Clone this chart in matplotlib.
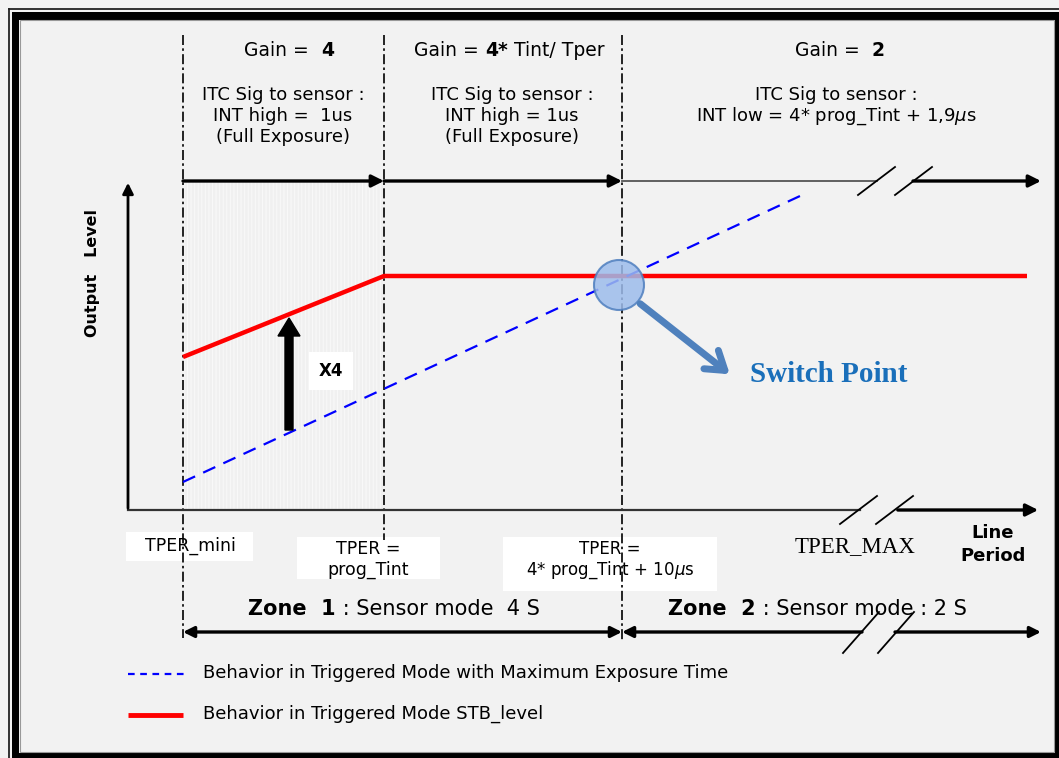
import matplotlib.pyplot as plt
from matplotlib.patches import Rectangle, Circle, FancyArrowPatch

# diagram coordinates are in pixels of the 1059x758 canvas (y grows downwards)
zone_x = [183, 384, 622]            # TPER_mini, prog_Tint, switch point
axis_y = 510
top_y = 181

red_x = [183, 384, 1027]            # Triggered Mode STB_level
red_y = [357, 276, 276]
blue_x = [183, 800]                 # Triggered Mode with max exposure
blue_y = [482, 196]

switch_pt = (619, 285)

FONT = 'DejaVu Sans'
BG = '#f2f2f2'

fig = plt.figure(figsize=(10.59, 7.58), dpi=100, facecolor=BG)
ax = fig.add_axes([0, 0, 1, 1])
ax.set_xlim(0, 1059)
ax.set_ylim(758, 0)
ax.axis('off')
ax.set_facecolor(BG)
renderer = fig.canvas.get_renderer()

# ---- frame: thin outer line + thick black band ----
ax.plot([8.5, 1059], [8.5, 8.5], color='#222222', lw=1.3)
ax.plot([8.5, 8.5], [8.5, 758], color='#222222', lw=1.3)
for x, y, w, h in [(12, 12, 1047, 8), (12, 12, 7, 746), (1055, 12, 4, 746), (12, 753, 1047, 5)]:
    ax.add_patch(Rectangle((x, y), w, h, fc='black', ec='none'))
ax.add_patch(Rectangle((20, 20), 1034, 732, fill=False, ec='#999999', lw=0.8))

# ---- shaded zone ----
plt.rcParams['hatch.linewidth'] = 0.3
ax.add_patch(Rectangle((zone_x[0], top_y), zone_x[1] - zone_x[0], axis_y - top_y,
                       fc='#f9f9f9', ec='#e4e4e4', hatch='|' * 12, lw=0))

# ---- dash-dot dividers ----
dd = (0, (6, 2, 1.5, 2))
ax.plot([zone_x[0]] * 2, [35, 638], color='black', lw=1.2, ls=dd)
ax.plot([zone_x[1]] * 2, [35, 540], color='black', lw=1.2, ls=dd)
ax.plot([zone_x[2]] * 2, [35, 640], color='black', lw=1.2, ls=dd)

# ---- axes ----
ax.annotate('', xy=(128, 180), xytext=(128, axis_y + 1),
            arrowprops=dict(arrowstyle='-|>', lw=2, color='black', mutation_scale=16))
ax.plot([128, 860], [axis_y, axis_y], color='#333333', lw=1.6)
ax.annotate('', xy=(1041, axis_y), xytext=(895, axis_y),
            arrowprops=dict(arrowstyle='-|>', lw=2.4, color='black', mutation_scale=18))
for x0 in (840, 876):
    ax.plot([x0, x0 + 37], [524, 496], color='black', lw=1.3)

# ---- top arrows ----
for a, b in [(zone_x[0], zone_x[1]), (zone_x[1], zone_x[2])]:
    ax.annotate('', xy=(b, top_y), xytext=(a, top_y),
                arrowprops=dict(arrowstyle='-|>', lw=2.4, color='black', mutation_scale=18,
                                shrinkA=0, shrinkB=0))
ax.plot([zone_x[2], 877], [top_y, top_y], color='#555555', lw=1.3)
ax.annotate('', xy=(1041, top_y), xytext=(913, top_y),
            arrowprops=dict(arrowstyle='-|>', lw=2.4, color='black', mutation_scale=18,
                            shrinkA=0, shrinkB=0))
for x0 in (858, 895):
    ax.plot([x0, x0 + 37], [195, 167], color='black', lw=1.3)

# ---- zone arrows ----
zy = 632
ax.annotate('', xy=(zone_x[0], zy), xytext=(zone_x[2], zy),
            arrowprops=dict(arrowstyle='<|-|>', lw=2.4, color='black', mutation_scale=16,
                            shrinkA=0, shrinkB=0))
ax.annotate('', xy=(zone_x[2], zy), xytext=(862, zy),
            arrowprops=dict(arrowstyle='-|>', lw=2.4, color='black', mutation_scale=16,
                            shrinkA=0, shrinkB=0))
ax.annotate('', xy=(1041, zy), xytext=(895, zy),
            arrowprops=dict(arrowstyle='-|>', lw=2.4, color='black', mutation_scale=16,
                            shrinkA=0, shrinkB=0))
for x0 in (843, 878):
    ax.plot([x0, x0 + 36], [653, 612], color='black', lw=1.3)

# ---- curves ----
ax.plot(red_x, red_y, color='#ff0000', lw=3.2, solid_capstyle='butt', zorder=4)
ax.plot(blue_x, blue_y, color='#0000ff', lw=1.6, ls=(0, (6, 4)), zorder=4)

# x4 arrow
ax.arrow(289, 430, 0, -112, width=8, head_width=22, head_length=18,
         length_includes_head=True, color='black', zorder=5)
ax.text(331, 371, 'X4', ha='center', va='center', fontsize=12, fontweight='bold',
        family=FONT, bbox=dict(fc='white', ec='none', pad=7), zorder=5)

# switch point
ax.add_patch(Circle(switch_pt, 25, fc='#9dbcec', ec='#4f7fbf', lw=1.5, alpha=0.85, zorder=6))
ax.add_patch(FancyArrowPatch((638, 302), (732, 376), arrowstyle='->,head_length=0.9,head_width=0.6',
                             color='#4f81bd', lw=5, mutation_scale=14, zorder=6))
ax.text(750, 375, 'Switch Point', ha='left', va='center', fontsize=21, fontweight='bold',
        family='Liberation Serif', color='#1a6fba')


# ---- header texts ----
def chained(x, y, parts, size=13.5):
    # place text runs one after another on a shared baseline
    for s, w in parts:
        t = ax.text(x, y, s, ha='left', va='baseline', fontsize=size,
                    fontweight=w, family=FONT)
        x += t.get_window_extent(renderer).width


chained(244, 56, [('Gain =  ', 'normal'), ('4', 'bold')])
chained(414, 56, [('Gain = ', 'normal'), ('4*', 'bold'), (' Tint/ Tper', 'normal')])
chained(795, 56, [('Gain =  ', 'normal'), ('2', 'bold')])

for cx, lines in [(283, ['ITC Sig to sensor :', 'INT high =  1us', '(Full Exposure)']),
                  (512, ['ITC Sig to sensor :', 'INT high = 1us', '(Full Exposure)']),
                  (836, ['ITC Sig to sensor :', r'INT low = 4* prog_Tint + 1,9$\mu$s'])]:
    for i, s in enumerate(lines):
        ax.text(cx, 95 + 21 * i, s, ha='center', va='center', fontsize=13, family=FONT)

ax.text(93, 273, 'Output   Level', rotation=90, ha='center', va='center',
        fontsize=11.5, fontweight='bold', family=FONT)

# ---- x labels ----
ax.add_patch(Rectangle((126, 532), 127, 29, fc='white', ec='none'))
ax.text(190, 546, 'TPER_mini', ha='center', va='center', fontsize=12.5, family=FONT)
ax.add_patch(Rectangle((297, 537), 143, 42, fc='white', ec='none'))
ax.text(368, 549, 'TPER =', ha='center', va='center', fontsize=12.5, family=FONT)
ax.text(368, 570, 'prog_Tint', ha='center', va='center', fontsize=12.5, family=FONT)
ax.add_patch(Rectangle((503, 537), 214, 54, fc='white', ec='none'))
ax.text(610, 549, 'TPER =', ha='center', va='center', fontsize=12, family=FONT)
ax.text(610, 570, r'4* prog_Tint + 10$\mu$s', ha='center', va='center', fontsize=12, family=FONT)
ax.text(855, 547, 'TPER_MAX', ha='center', va='center', fontsize=16.5, family='Liberation Serif')
ax.text(993, 533, 'Line', ha='center', va='center', fontsize=13, fontweight='bold', family=FONT)
ax.text(993, 556, 'Period', ha='center', va='center', fontsize=13, fontweight='bold', family=FONT)

chained(248, 615, [('Zone  1', 'bold'), (' : Sensor mode  4 S', 'normal')], size=15)
chained(668, 615, [('Zone  2', 'bold'), (' : Sensor mode : 2 S', 'normal')], size=15)

# ---- legend ----
ax.plot([128, 186], [674, 674], color='#0000ff', lw=1.6, ls=(0, (3, 2.5)))
ax.text(203, 673, 'Behavior in Triggered Mode with Maximum Exposure Time', ha='left',
        va='center', fontsize=13, family=FONT)
ax.plot([128, 183], [715, 715], color='#ff0000', lw=3.5, solid_capstyle='butt')
ax.text(203, 714, 'Behavior in Triggered Mode STB_level', ha='left',
        va='center', fontsize=13, family=FONT)

fig.savefig('out.png', dpi=100, facecolor=BG)
